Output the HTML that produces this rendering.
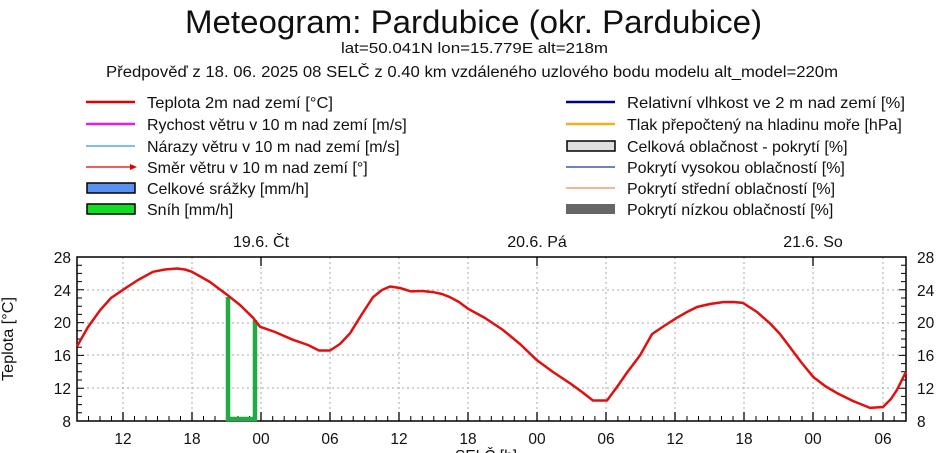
<!DOCTYPE html>
<html><head><meta charset="utf-8"><style>
html,body{margin:0;padding:0;background:#fff}
svg{display:block;font-family:"Liberation Sans",sans-serif}
</style></head><body>
<svg width="951" height="453" viewBox="0 0 951 453" xmlns="http://www.w3.org/2000/svg">
<rect width="951" height="453" fill="#fff"/>
<text x="185" y="33" font-size="32" textLength="577" lengthAdjust="spacingAndGlyphs" fill="#111">Meteogram: Pardubice (okr. Pardubice)</text>
<text x="341" y="53" font-size="15" textLength="267" lengthAdjust="spacingAndGlyphs" fill="#111">lat=50.041N lon=15.779E alt=218m</text>
<text x="106" y="77" font-size="15.5" textLength="732" lengthAdjust="spacingAndGlyphs" fill="#111">Předpověď z 18. 06. 2025 08 SELČ z 0.40 km vzdáleného uzlového bodu modelu alt_model=220m</text>
<g font-size="16" fill="#111">
<line x1="86" y1="102" x2="135" y2="102" stroke="#e00000" stroke-width="2.5"/>
<text x="147" y="108" textLength="186" lengthAdjust="spacingAndGlyphs">Teplota 2m nad zemí [°C]</text>
<line x1="86" y1="124" x2="135" y2="124" stroke="#e020e0" stroke-width="2.5"/>
<text x="147" y="130">Rychost větru v 10 m nad zemí [m/s]</text>
<line x1="86" y1="146" x2="135" y2="146" stroke="#3399dd" stroke-width="1.2"/>
<text x="147" y="152">Nárazy větru v 10 m nad zemí [m/s]</text>
<line x1="86" y1="167" x2="132" y2="167" stroke="#e00000" stroke-width="1.2"/>
<polygon points="130,164 137,167 130,170" fill="#e00000"/>
<text x="147" y="173">Směr větru v 10 m nad zemí [°]</text>
<rect x="87" y="183" width="48" height="10" fill="#5b8ff0" stroke="#000" stroke-width="1.5"/>
<text x="147" y="194">Celkové srážky [mm/h]</text>
<rect x="87" y="204" width="48" height="10" fill="#11dd22" stroke="#000" stroke-width="1.5"/>
<text x="147" y="215">Sníh [mm/h]</text>
<line x1="566" y1="102" x2="615" y2="102" stroke="#000080" stroke-width="2.5"/>
<text x="627" y="108" textLength="278" lengthAdjust="spacingAndGlyphs">Relativní vlhkost ve 2 m nad zemí [%]</text>
<line x1="566" y1="124" x2="615" y2="124" stroke="#f0b020" stroke-width="2.5"/>
<text x="627" y="130">Tlak přepočtený na hladinu moře [hPa]</text>
<rect x="567" y="141" width="48" height="10" fill="#ddd" stroke="#000" stroke-width="1.5"/>
<text x="627" y="152">Celková oblačnost - pokrytí [%]</text>
<line x1="566" y1="167" x2="615" y2="167" stroke="#2233aa" stroke-width="1.2"/>
<text x="627" y="173">Pokrytí vysokou oblačností [%]</text>
<line x1="566" y1="188" x2="615" y2="188" stroke="#f08850" stroke-width="1.2"/>
<text x="627" y="194">Pokrytí střední oblačností [%]</text>
<rect x="566" y="204" width="49" height="10" fill="#666"/>
<text x="627" y="215">Pokrytí nízkou oblačností [%]</text>
</g>
<g font-size="16" fill="#111" text-anchor="middle">
<text x="261" y="247">19.6. Čt</text>
<text x="537" y="247">20.6. Pá</text>
<text x="813" y="247">21.6. So</text>
</g>
<g stroke="#aaa" stroke-width="1" stroke-dasharray="2,3">
<line x1="123" y1="257" x2="123" y2="421"/><line x1="192" y1="257" x2="192" y2="421"/><line x1="261" y1="257" x2="261" y2="421"/><line x1="330" y1="257" x2="330" y2="421"/><line x1="399" y1="257" x2="399" y2="421"/><line x1="468" y1="257" x2="468" y2="421"/><line x1="537" y1="257" x2="537" y2="421"/><line x1="606" y1="257" x2="606" y2="421"/><line x1="675" y1="257" x2="675" y2="421"/><line x1="744" y1="257" x2="744" y2="421"/><line x1="813" y1="257" x2="813" y2="421"/><line x1="883" y1="257" x2="883" y2="421"/>
<line x1="77" y1="290" x2="906" y2="290"/><line x1="77" y1="323" x2="906" y2="323"/><line x1="77" y1="355" x2="906" y2="355"/><line x1="77" y1="388" x2="906" y2="388"/>
</g>
<g stroke="#000" stroke-width="1.3">
<line x1="261" y1="257" x2="261" y2="266"/><line x1="537" y1="257" x2="537" y2="266"/><line x1="813" y1="257" x2="813" y2="266"/>
<line x1="123" y1="421" x2="123" y2="412"/><line x1="192" y1="421" x2="192" y2="412"/><line x1="261" y1="421" x2="261" y2="412"/><line x1="330" y1="421" x2="330" y2="412"/><line x1="399" y1="421" x2="399" y2="412"/><line x1="468" y1="421" x2="468" y2="412"/><line x1="537" y1="421" x2="537" y2="412"/><line x1="606" y1="421" x2="606" y2="412"/><line x1="675" y1="421" x2="675" y2="412"/><line x1="744" y1="421" x2="744" y2="412"/><line x1="813" y1="421" x2="813" y2="412"/><line x1="883" y1="421" x2="883" y2="412"/>
</g>
<path stroke="#000" stroke-width="1" fill="none" d="M88.5 421v-5M100 421v-5M111.5 421v-5M134.5 421v-5M146 421v-5M157.5 421v-5M169 421v-5M180.5 421v-5M203.5 421v-5M215 421v-5M226.5 421v-5M238 421v-5M249.5 421v-5M272.7 421v-5M284.2 421v-5M295.7 421v-5M307.2 421v-5M318.7 421v-5M341.7 421v-5M353.2 421v-5M364.7 421v-5M376.2 421v-5M387.7 421v-5M410.8 421v-5M422.3 421v-5M433.8 421v-5M445.3 421v-5M456.8 421v-5M479.8 421v-5M491.3 421v-5M502.8 421v-5M514.3 421v-5M525.8 421v-5M548.9 421v-5M560.4 421v-5M571.9 421v-5M583.4 421v-5M594.9 421v-5M617.9 421v-5M629.4 421v-5M640.9 421v-5M652.4 421v-5M663.9 421v-5M687 421v-5M698.5 421v-5M710 421v-5M721.5 421v-5M733 421v-5M756 421v-5M767.5 421v-5M779 421v-5M790.5 421v-5M802 421v-5M825.1 421v-5M836.6 421v-5M848.1 421v-5M859.6 421v-5M871.1 421v-5M894.1 421v-5
M77 265.2h5M77 273.4h5M77 281.6h5M77 289.8h7M77 298h5M77 306.2h5M77 314.4h5M77 322.6h7M77 330.8h5M77 339h5M77 347.2h5M77 355.4h7M77 363.6h5M77 371.8h5M77 380h5M77 388.2h7M77 396.4h5M77 404.6h5M77 412.8h5
M906 265.2h-5M906 273.4h-5M906 281.6h-5M906 289.8h-7M906 298h-5M906 306.2h-5M906 314.4h-5M906 322.6h-7M906 330.8h-5M906 339h-5M906 347.2h-5M906 355.4h-7M906 363.6h-5M906 371.8h-5M906 380h-5M906 388.2h-7M906 396.4h-5M906 404.6h-5M906 412.8h-5"/>
<rect x="77" y="257" width="829" height="164" fill="none" stroke="#000" stroke-width="1.5"/>
<polyline fill="none" stroke="#22aa44" stroke-width="4.5" points="228,297 228,419 255,419 255,320"/>
<polyline fill="none" stroke="#e01010" stroke-width="2.5" stroke-linejoin="round" points="77,346.4 88,327 100,310.3 111,298 123,289.8 138,280 153,271.8 165,269.5 177,268.5 185,269.5 192,271.8 210,282 227,294.7 240,305 253,317.7 260,326.7 275,332 293,339.8 308,345 319,350.5 330,350.5 340,344 350,333.3 362,314 373,297.2 382,290 390,286.5 400,288 411,291.4 422,291 434,292.3 442,294 450,297.2 459,302 468,308.7 485,318 503,330 520,344 537,360.3 553,372 570,383.3 582,392 593,400.5 607,400.5 617,387 627,372.6 640,355.4 652,334.1 664,326 677,317.7 687,312 697,307 710,304 723,302.1 733,302 743,302.9 757,312 770,323.4 780,334 790,347.2 801,362 813,376.7 825,386 837,393.1 853,401 870,407.9 883,407 891,399 897,389.8 906,371.8"/>
<g font-size="15.5" fill="#111">
<g text-anchor="end">
<text x="71" y="263">28</text><text x="71" y="296">24</text><text x="71" y="328">20</text><text x="71" y="361">16</text><text x="71" y="394">12</text><text x="71" y="427">8</text>
</g>
<text x="917" y="263">28</text><text x="917" y="296">24</text><text x="917" y="328">20</text><text x="917" y="361">16</text><text x="917" y="394">12</text><text x="917" y="427">8</text>
<g text-anchor="middle">
<text x="123" y="444">12</text><text x="192" y="444">18</text><text x="261" y="444">00</text><text x="330" y="444">06</text><text x="399" y="444">12</text><text x="468" y="444">18</text><text x="537" y="444">00</text><text x="606" y="444">06</text><text x="675" y="444">12</text><text x="744" y="444">18</text><text x="813" y="444">00</text><text x="883" y="444">06</text>
<text x="486" y="461">SELČ [h]</text>
<text transform="translate(13,339) rotate(-90)" textLength="84" lengthAdjust="spacingAndGlyphs">Teplota [°C]</text>
</g>
</g>
</svg>
</body></html>
